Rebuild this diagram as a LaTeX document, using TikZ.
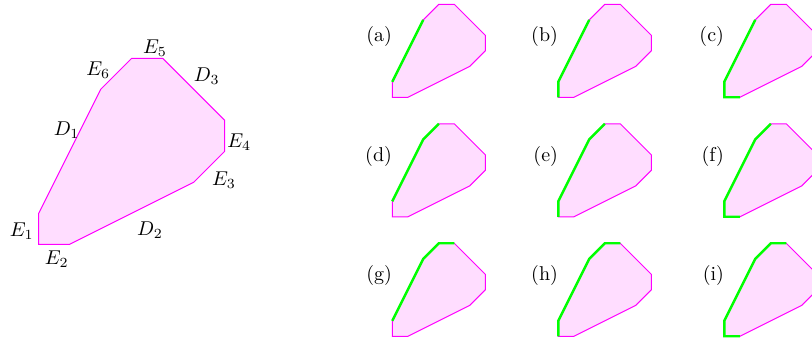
\documentclass[tikz,border=0pt]{standalone}
\usepackage{amsmath,amssymb}
\usepackage{tikz}
\usetikzlibrary{calc}

\definecolor{polyline}{RGB}{255,0,255}
\definecolor{polyfill}{RGB}{255,221,255}
\definecolor{chaingreen}{RGB}{0,255,0}

\newcommand{\polypath}{(0,0) -- (1,0) -- (5,2) -- (6,3) -- (6,4) -- (4,6) -- (3,6) -- (2,5) -- (0,1) -- cycle}

\begin{document}
\begin{tikzpicture}[
  region/.style={draw=polyline, fill=polyfill, line width=0.5pt},
  chain/.style={draw=chaingreen, line width=1.2pt},
  panel/.style={anchor=east, inner sep=0pt}
]
\useasboundingbox (0,0) rectangle (406pt,170.5pt);

% grosses Polygon
\begin{scope}[shift={(19.35pt,48.35pt)}, x=15.5pt, y=15.5pt]
  \path[region] \polypath;
  \node (D1) at (0.90,3.69) {$D_1$};
  \node (D2) at (3.59,0.46) {$D_2$};
  \node (D3) at (5.42,5.41) {$D_3$};
  \node (E1) at (-0.55,0.41) {$E_1$};
  \node (E2) at (0.58,-0.48) {$E_2$};
  \node (E3) at (5.98,2.07) {$E_3$};
  \node (E4) at (6.47,3.31) {$E_4$};
  \node (E5) at (3.75,6.32) {$E_5$};
  \node (E6) at (1.92,5.62) {$E_6$};
\end{scope}

% die neun kleinen Kopien
\foreach \lab/\col/\row/\gpath in {
  a/0/0/{(0,1) -- (2,5)},
  b/1/0/{(0,0) -- (0,1) -- (2,5)},
  c/2/0/{(1,0) -- (0,0) -- (0,1) -- (2,5)},
  d/0/1/{(0,1) -- (2,5) -- (3,6)},
  e/1/1/{(0,0) -- (0,1) -- (2,5) -- (3,6)},
  f/2/1/{(1,0) -- (0,0) -- (0,1) -- (2,5) -- (3,6)},
  g/0/2/{(0,1) -- (2,5) -- (3,6) -- (4,6)},
  h/1/2/{(0,0) -- (0,1) -- (2,5) -- (3,6) -- (4,6)},
  i/2/2/{(1,0) -- (0,0) -- (0,1) -- (2,5) -- (3,6) -- (4,6)}}{
  \begin{scope}[shift={(196.15pt+83pt*\col,121.85pt-59.75pt*\row)}, x=7.75pt, y=7.75pt]
    \path[region] \polypath;
    \draw[chain] \gpath;
    \node[panel] (lab-\lab) at (0,3.9) {(\lab)};
  \end{scope}
}

\end{tikzpicture}
\end{document}
